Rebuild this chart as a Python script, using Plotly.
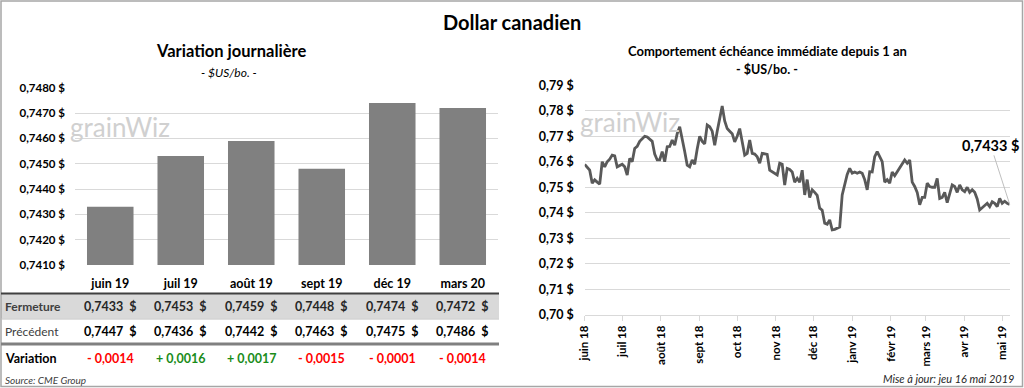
import plotly.graph_objects as go
import pandas as pd

# ---------------- data ----------------
contracts = ["juin 19", "juil 19", "août 19", "sept 19", "déc 19", "mars 20"]
fermeture = [0.7433, 0.7453, 0.7459, 0.7448, 0.7474, 0.7472]
precedent = [0.7447, 0.7436, 0.7442, 0.7463, 0.7475, 0.7486]
variation = [-0.0014, 0.0016, 0.0017, -0.0015, -0.0001, -0.0014]
bar_ticks = [0.7410, 0.7420, 0.7430, 0.7440, 0.7450, 0.7460, 0.7470, 0.7480]

history_start = "2018-06-01"
history_end = "2019-05-07"
history_values = [
    0.7590, 0.7580, 0.7567, 0.7516, 0.7529, 0.7520, 0.7512, 0.7600, 0.7580, 0.7600,
    0.7610, 0.7626, 0.7623, 0.7580, 0.7585, 0.7590, 0.7580, 0.7548, 0.7613, 0.7600,
    0.7652, 0.7660, 0.7680, 0.7692, 0.7700, 0.7697, 0.7690, 0.7680, 0.7630, 0.7607,
    0.7607, 0.7640, 0.7600, 0.7659, 0.7660, 0.7685, 0.7665, 0.7710, 0.7737, 0.7680,
    0.7640, 0.7587, 0.7580, 0.7607, 0.7590, 0.7650, 0.7700, 0.7680, 0.7670, 0.7744,
    0.7737, 0.7720, 0.7665, 0.7720, 0.7770, 0.7819, 0.7760, 0.7730, 0.7720, 0.7710,
    0.7678, 0.7700, 0.7730, 0.7680, 0.7626, 0.7633, 0.7685, 0.7633, 0.7630, 0.7620,
    0.7594, 0.7633, 0.7630, 0.7629, 0.7567, 0.7560, 0.7555, 0.7548, 0.7594, 0.7590,
    0.7509, 0.7574, 0.7570, 0.7560, 0.7520, 0.7535, 0.7520, 0.7567, 0.7470, 0.7530,
    0.7460, 0.7490, 0.7480, 0.7468, 0.7418, 0.7410, 0.7359, 0.7355, 0.7372, 0.7333,
    0.7335, 0.7340, 0.7344, 0.7470, 0.7516, 0.7550, 0.7574, 0.7555, 0.7560, 0.7555,
    0.7560, 0.7555, 0.7530, 0.7490, 0.7561, 0.7560, 0.7620, 0.7640, 0.7620, 0.7600,
    0.7520, 0.7530, 0.7516, 0.7560, 0.7545, 0.7560, 0.7580, 0.7594, 0.7607, 0.7594,
    0.7607, 0.7520, 0.7503, 0.7480, 0.7431, 0.7460, 0.7460, 0.7516, 0.7503, 0.7500,
    0.7500, 0.7535, 0.7456, 0.7460, 0.7480, 0.7440, 0.7480, 0.7509, 0.7503, 0.7480,
    0.7509, 0.7490, 0.7483, 0.7500, 0.7480, 0.7490, 0.7480, 0.7454, 0.7411, 0.7420,
    0.7430, 0.7437, 0.7424, 0.7443, 0.7437, 0.7424, 0.7456, 0.7437, 0.7445, 0.7437,
    0.7433,
]
line_ticks = [0.70, 0.71, 0.72, 0.73, 0.74, 0.75, 0.76, 0.77, 0.78, 0.79]
month_ticks = ["2018-06-01", "2018-07-01", "2018-08-01", "2018-09-01", "2018-10-01",
               "2018-11-01", "2018-12-01", "2019-01-01", "2019-02-01", "2019-03-01",
               "2019-04-01", "2019-05-01"]
month_labels = ["juin 18", "juil 18", "août 18", "sept 18", "oct 18", "nov 18",
                "déc 18", "janv 19", "févr 19", "mars 19", "avr 19", "mai 19"]

# ---------------- helpers ----------------
FONT = "Lato"
W, H = 1024, 388


def fr(v, d=4):
    return f"{v:.{d}f}".replace(".", ",")


def px(x):
    return x / W


def py(y):
    return 1 - y / H


history_dates = pd.date_range(history_start, history_end, periods=len(history_values))

fig = go.Figure()

fig.add_trace(go.Bar(
    x=contracts, y=fermeture, marker=dict(color="#808080", line=dict(width=0)),
    xaxis="x", yaxis="y", hoverinfo="skip",
))
fig.add_trace(go.Scatter(
    x=history_dates, y=history_values, mode="lines",
    line=dict(color="#595959", width=2.8), xaxis="x2", yaxis="y2", hoverinfo="skip",
))

grid = "#D9D9D9"
fig.update_layout(
    width=W, height=H, margin=dict(l=0, r=0, t=0, b=0),
    paper_bgcolor="white", plot_bgcolor="white", showlegend=False,
    bargap=0.34,
    font=dict(family=FONT, color="#000000"),
    xaxis=dict(domain=[px(75), px(498)], type="category", showgrid=False, showline=False,
               ticks="", tickfont=dict(size=12.5, weight="bold", color="#000000"),
               ticklabelstandoff=9, automargin=False, fixedrange=True),
    yaxis=dict(domain=[py(265), py(87.7)], range=[0.7410, 0.7480], tickvals=bar_ticks,
               ticktext=[fr(v) + " $" for v in bar_ticks], gridcolor=grid, gridwidth=1,
               zeroline=False, showline=False, tickfont=dict(size=11.5, weight="bold"),
               ticklabelstandoff=9, automargin=False, fixedrange=True),
    xaxis2=dict(domain=[px(584.7), px(1009.7)], type="date", anchor="y2",
                range=[history_dates[0], history_dates[-1]],
                tickvals=month_ticks, ticktext=month_labels, tickangle=-90,
                showgrid=False, showline=True, linecolor=grid, linewidth=1,
                ticks="outside", ticklen=5, tickcolor=grid,
                tickfont=dict(size=11.5, weight="bold"), automargin=False, fixedrange=True),
    yaxis2=dict(domain=[py(315), py(85)], range=[0.6999, 0.7901], anchor="x2",
                tickvals=line_ticks, ticktext=[fr(v, 2) + " $" for v in line_ticks],
                gridcolor=grid, gridwidth=1, zeroline=False, showline=False,
                tickfont=dict(size=12.5, weight="bold"), ticklabelstandoff=10,
                automargin=False, fixedrange=True),
)

shapes = [
    # outer frame
    dict(type="rect", xref="paper", yref="paper", x0=px(1), x1=px(1022.5), y0=py(386.5), y1=py(1),
         line=dict(color="#A6A6A6", width=1.5), fillcolor="rgba(0,0,0,0)", layer="above"),
    # table: gray row
    dict(type="rect", xref="paper", yref="paper", x0=px(1), x1=px(499), y0=py(318.5), y1=py(294),
         line=dict(width=0), fillcolor="#D9D9D9", layer="below"),
    dict(type="line", xref="paper", yref="paper", x0=px(1), x1=px(499), y0=py(293.5), y1=py(293.5),
         line=dict(color="#404040", width=2)),
    dict(type="line", xref="paper", yref="paper", x0=px(1), x1=px(499), y0=py(319), y1=py(319),
         line=dict(color="#BFBFBF", width=1)),
    dict(type="line", xref="paper", yref="paper", x0=px(1), x1=px(499), y0=py(344), y1=py(344),
         line=dict(color="#808080", width=3)),
]
fig.update_layout(shapes=shapes)

ann = []


def text(x, y, t, size, bold=False, italic=False, color="#000000", xanchor="center", xref="paper"):
    ann.append(dict(x=x, y=y, xref=xref, yref="paper", text=t, showarrow=False,
                    xanchor=xanchor, yanchor="middle",
                    font=dict(family=FONT, size=size, color=color,
                              weight="bold" if bold else "normal",
                              style="italic" if italic else "normal")))


text(0.5, py(22), "Dollar canadien", 20, bold=True)
text(px(231), py(51.5), "Variation journalière", 16.5, bold=True)
text(px(229), py(72), "- $US/bo. -", 12, italic=True)
text(px(767), py(51.5), "Comportement échéance immédiate depuis 1 an", 13, bold=True)
text(px(767), py(69.5), "- $US/bo. -", 12.5, bold=True)

# watermarks
for wx, wy in [(68, 127), (578, 122)]:
    ann.append(dict(x=px(wx), y=py(wy), xref="paper", yref="paper", text="grainWiz",
                    showarrow=False, xanchor="left", yanchor="middle",
                    font=dict(family="Lato", size=26, color="#D0D0D0")))

# table rows
text(px(3), py(306), "Fermeture", 12, bold=True, color="#404040", xanchor="left")
text(px(3), py(331.5), "Précédent", 12, color="#404040", xanchor="left")
text(px(3), py(358), "Variation", 12.5, bold=True, xanchor="left")
for c, f, p, v in zip(contracts, fermeture, precedent, variation):
    text(c, py(306), fr(f) + "\u00a0\u00a0$", 12.5, bold=True, color="#262626", xref="x")
    text(c, py(331.5), fr(p) + "\u00a0\u00a0$", 12.5, bold=True, xref="x")
    sign = "+ " if v > 0 else "- "
    col = "#1A8C1A" if v > 0 else "#FF0000"
    text(c, py(358), sign + fr(abs(v)), 12.5, bold=True, color=col, xref="x")

text(px(3), py(379.5), "Source: CME Group", 10, italic=True, color="#404040", xanchor="left")
text(px(1016), py(378), "Mise à jour: jeu 16 mai 2019", 11, italic=True, color="#262626",
     xanchor="right")

# last value callout
ann.append(dict(x=history_dates[-1], y=history_values[-1], xref="x2", yref="y2",
                text=fr(history_values[-1]) + " $", showarrow=True, arrowhead=0,
                arrowwidth=1, arrowcolor="#BFBFBF", ax=-19, ay=-59,
                font=dict(family=FONT, size=14.5, weight="bold", color="#000000")))

fig.update_layout(annotations=ann)
fig.write_html("out.html", config={"displayModeBar": False},
               post_script="document.body.style.margin='0px';")
